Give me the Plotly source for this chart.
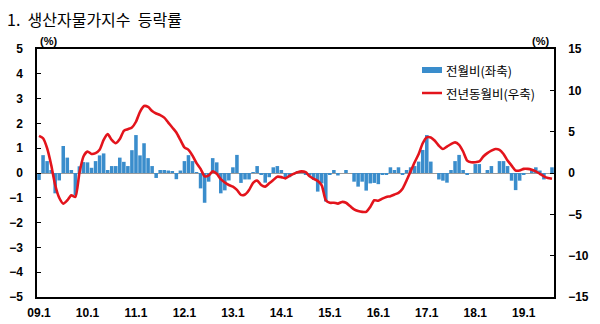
import plotly.graph_objects as go

# Months 2009.1 .. 2019.8
months = [f"{y % 100:02d}.{m}" for y in range(2009, 2020) for m in range(1, 13)][:128]
tick_labels = ["09.1", "10.1", "11.1", "12.1", "13.1", "14.1", "15.1", "16.1", "17.1", "18.1", "19.1"]

# 전월비 (MoM, %, left axis)
mom = [
    -0.28, 0.72, 0.48, 0.12, -0.82, -0.30, 1.09, 0.62, 0.12, -0.90, 0.27, 0.44,
    0.43, 0.21, 0.48, 0.71, 0.79, 0.12, 0.28, 0.28, 0.62, 0.45, 0.28, 0.92,
    1.53, 0.71, 1.20, 0.60, 0.28, -0.20, 0.12, 0.12, 0.10, 0.05, -0.25, 0.10,
    0.48, 0.72, 0.48, 0.02, -0.62, -1.20, -0.35, 0.60, 0.43, -0.82, -0.70, -0.30,
    0.23, 0.73, -0.40, -0.26, -0.26, 0.02, 0.28, -0.05, -0.39, -0.17, 0.23, 0.28,
    0.12, -0.17, -0.17, -0.05, 0.05, 0.08, -0.05, -0.10, -0.28, -0.75, -0.42, -1.15,
    -0.05, 0.12, -0.10, 0.00, 0.12, 0.00, -0.35, -0.55, -0.35, -0.71, -0.42, -0.40,
    -0.45, -0.08, -0.08, 0.23, 0.12, 0.23, -0.08, 0.12, 0.23, 0.28, 0.46, 0.93,
    1.53, 0.46, 0.00, -0.26, -0.31, -0.39, 0.12, 0.48, 0.73, 0.12, -0.08, 0.00,
    0.36, 0.36, 0.00, 0.12, 0.28, 0.00, 0.48, 0.48, 0.28, -0.31, -0.69, -0.31,
    -0.08, 0.00, 0.12, 0.23, 0.10, -0.26, 0.00, 0.23,
]

# 전년동월비 (YoY, %, right axis)
yoy = [
    4.5, 4.2, 3.0, 1.0, -1.45, -3.0, -3.7, -3.3, -2.7, -2.9, 0.0, 2.0,
    2.6, 2.3, 2.4, 2.8, 4.0, 4.7, 4.0, 3.6, 4.1, 5.1, 5.3, 5.5,
    6.2, 7.4, 8.1, 8.0, 7.5, 7.2, 7.0, 6.7, 6.1, 5.5, 4.9, 4.0,
    3.1, 2.8, 2.1, 1.2, 0.5, -0.4, -0.3, 0.2, -0.1, -0.75, -1.15, -1.45,
    -1.65, -2.05, -2.65, -2.6, -2.05, -1.2, -0.9, -1.45, -1.65, -1.25, -0.85, -0.45,
    -0.5, -0.65, -0.35, -0.1, 0.1, 0.2, 0.1, -0.4, -0.7, -0.95, -1.5, -3.3,
    -3.6, -3.6, -3.7, -3.5, -3.6, -4.0, -4.4, -4.6, -4.7, -4.7, -4.1, -3.3,
    -3.35, -3.1, -2.9, -2.8, -2.6, -2.4, -1.9, -0.9, 0.2, 1.3, 2.3, 3.6,
    4.3, 4.3, 3.9, 3.3, 2.9, 3.2, 3.5, 3.7, 3.4, 2.6, 1.5, 1.3,
    1.3, 1.4, 2.0, 2.4, 2.7, 2.9, 2.8, 2.3, 1.5, 0.9, 0.3, 0.3,
    0.5, 0.5, 0.4, 0.2, -0.1, -0.4, -0.6, -0.7,
]

BAR_COLOR = "#3a8dcc"
LINE_COLOR = "#e3141c"
TICK_FONT = dict(family="Liberation Sans", size=12, color="black", weight="bold")
KR_FONT = "Noto Sans CJK KR"

fig = go.Figure()
fig.add_trace(go.Bar(x=months, y=mom, marker=dict(color=BAR_COLOR, line=dict(width=0)),
                     name="전월비(좌축)", yaxis="y"))
fig.add_trace(go.Scatter(x=months, y=yoy, mode="lines", name="전년동월비(우축)",
                         line=dict(color=LINE_COLOR, width=2.6, shape="spline", smoothing=0.6),
                         yaxis="y2"))

L, R, T, B = 37, 46, 49, 27
W, H = 600, 324
pw, ph = W - L - R, H - T - B

def px(x):
    return (x - L) / pw

def py(y):
    return (H - B - y) / ph

fig.update_layout(
    width=W, height=H,
    margin=dict(l=L, r=R, t=T, b=B, pad=0, autoexpand=False),
    paper_bgcolor="white", plot_bgcolor="white",
    showlegend=False,
    bargap=0.12,
    xaxis=dict(type="category", range=[-0.5, len(months) - 0.5], automargin=False,
               tickmode="array", tickvals=tick_labels, ticktext=tick_labels,
               showline=True, linecolor="black", linewidth=1.5, mirror=True,
               ticks="", showgrid=False, tickfont=TICK_FONT, ticklabelstandoff=4),
    yaxis=dict(range=[-5, 5], dtick=1, showgrid=False, zeroline=True, automargin=False,
               zerolinecolor="#9a9a9a", zerolinewidth=1.2,
               showline=True, linecolor="black", linewidth=1.5,
               ticks="inside", ticklen=4, tickcolor="black",
               tickfont=TICK_FONT, ticklabelstandoff=10),
    yaxis2=dict(range=[-15, 15], dtick=5, overlaying="y", side="right", automargin=False,
                showgrid=False, zeroline=False,
                showline=True, linecolor="black", linewidth=1.5,
                ticks="inside", ticklen=4, tickcolor="black",
                tickfont=TICK_FONT, ticklabelstandoff=10),
)

annotations = [
    dict(text="1.  생산자물가지수  등락률", x=px(5), y=py(19), xref="paper", yref="paper",
         xanchor="left", yanchor="middle", showarrow=False,
         font=dict(family=KR_FONT, size=16, color="black")),
    dict(text="(%)", x=px(48), y=py(41), xref="paper", yref="paper",
         xanchor="center", yanchor="middle", showarrow=False,
         font=dict(family="Liberation Sans", size=11, color="black", weight="bold")),
    dict(text="(%)", x=px(540), y=py(41), xref="paper", yref="paper",
         xanchor="center", yanchor="middle", showarrow=False,
         font=dict(family="Liberation Sans", size=11, color="black", weight="bold")),
    dict(text="전월비(좌축)", x=px(444), y=py(70), xref="paper", yref="paper",
         xanchor="left", yanchor="middle", showarrow=False,
         font=dict(family=KR_FONT, size=12.5, color="black")),
    dict(text="전년동월비(우축)", x=px(444), y=py(94), xref="paper", yref="paper",
         xanchor="left", yanchor="middle", showarrow=False,
         font=dict(family=KR_FONT, size=12.5, color="black")),
]
fig.update_layout(annotations=annotations)

fig.add_shape(type="rect", xref="paper", yref="paper",
              x0=px(422), x1=px(442), y0=py(73), y1=py(67),
              fillcolor=BAR_COLOR, line=dict(width=0))
fig.add_shape(type="line", xref="paper", yref="paper",
              x0=px(422), x1=px(442), y0=py(93), y1=py(93),
              line=dict(color=LINE_COLOR, width=2.5))

fig.write_html("out.html")
